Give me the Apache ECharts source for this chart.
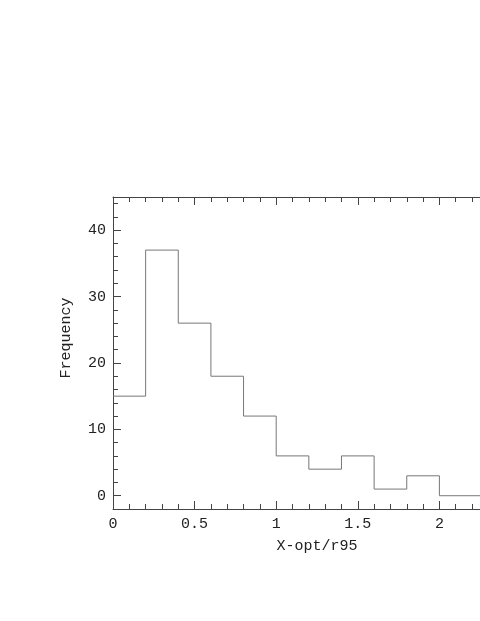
<!DOCTYPE html>
<html>
<head>
<meta charset="utf-8">
<script src="https://cdn.jsdelivr.net/npm/echarts@6/dist/echarts.min.js"></script>
<style>
  html, body { margin: 0; padding: 0; background: #fff; }
  #chart { width: 480px; height: 621px; }
</style>
</head>
<body>
<div id="chart"></div>
<script>
// histogram bins (left edge) and counts
const binStarts = [0, 0.2, 0.4, 0.6, 0.8, 1.0, 1.2, 1.4, 1.6, 1.8, 2.0, 2.2];
const counts = [15, 37, 26, 18, 12, 6, 4, 6, 1, 3, 0, 0];
const binEnd = 2.4;
const yMajorTicks = [0, 10, 20, 30, 40];
const yMinorTicks = [-2, 0, 2, 4, 6, 8, 10, 12, 14, 16, 18, 20, 22, 24, 26, 28, 30, 32, 34, 36, 38, 40, 42, 44];

const font = 'Liberation Mono';
const axisColor = '#444';

// step line: each point at left edge, the final one closes the last bin
const stepData = binStarts.map((x, i) => [x, counts[i]]);
stepData.push([binEnd, counts[counts.length - 1]]);

var myChart = echarts.init(document.getElementById('chart'));

myChart.setOption({
    animation: false,
    grid: {
        left: 113,
        top: 197,
        width: 408,
        height: 312,
        outerBoundsMode: 'none',
        containLabel: false
    },
    xAxis: [
        {
            type: 'value',
            min: 0,
            max: 2.5,
            interval: 0.5,
            position: 'bottom',
            name: 'X-opt/r95',
            nameLocation: 'middle',
            nameGap: 30,
            nameTextStyle: { fontFamily: font, fontSize: 15, color: '#222' },
            axisLine: { onZero: false, lineStyle: { color: axisColor } },
            axisTick: { inside: true, length: 8, lineStyle: { color: axisColor } },
            minorTick: { show: true, splitNumber: 5, length: 5, lineStyle: { color: axisColor } },
            axisLabel: { fontFamily: font, fontSize: 15, color: '#222', margin: 8 },
            splitLine: { show: false }
        },
        {
            type: 'value',
            min: 0,
            max: 2.5,
            interval: 0.5,
            position: 'top',
            axisLine: { onZero: false, lineStyle: { color: axisColor } },
            axisTick: { inside: true, length: 8, lineStyle: { color: axisColor } },
            minorTick: { show: true, splitNumber: 5, length: 5, lineStyle: { color: axisColor } },
            axisLabel: { show: false },
            splitLine: { show: false }
        }
    ],
    yAxis: [
        {
            type: 'value',
            min: -2,
            max: 45,
            position: 'left',
            axisLine: { show: true, onZero: false, lineStyle: { color: axisColor } },
            axisTick: { show: true, inside: true, length: 8, customValues: yMajorTicks, lineStyle: { color: axisColor } },
            axisLabel: { customValues: yMajorTicks, fontFamily: font, fontSize: 15, color: '#222', margin: 7 },
            splitLine: { show: false }
        },
        {
            type: 'value',
            min: -2,
            max: 45,
            position: 'left',
            axisLine: { show: false, onZero: false },
            axisTick: { show: true, inside: true, length: 5, customValues: yMinorTicks, lineStyle: { color: axisColor } },
            axisLabel: { show: false },
            splitLine: { show: false }
        }
    ],
    graphic: [
        {
            type: 'text',
            x: 66,
            y: 338,
            rotation: Math.PI / 2,
            style: {
                text: 'Frequency',
                fontFamily: font,
                fontSize: 15,
                fill: '#222',
                align: 'center',
                verticalAlign: 'middle'
            }
        }
    ],
    series: [
        {
            type: 'line',
            step: 'end',
            xAxisIndex: 0,
            yAxisIndex: 0,
            data: stepData,
            symbol: 'none',
            lineStyle: { color: '#777', width: 1 }
        }
    ]
});
</script>
</body>
</html>
